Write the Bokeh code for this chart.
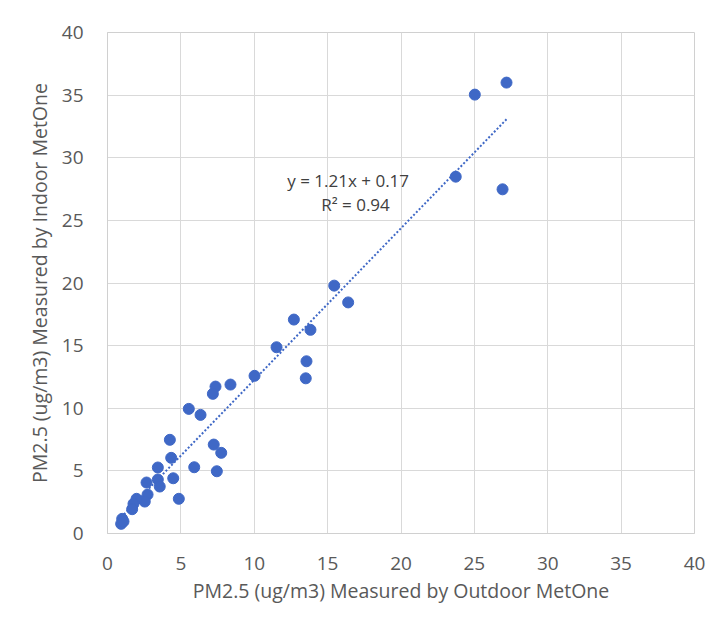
from bokeh.plotting import figure
from bokeh.models import Range1d, FixedTicker, Label
from bokeh.embed import file_html
from bokeh.resources import INLINE

outdoor = [27.19, 25.03, 23.73, 26.92, 15.45, 16.40, 12.70, 13.83, 11.52, 13.56,
           13.51, 10.02, 8.38, 7.36, 7.18, 5.54, 6.34, 4.25, 7.24, 7.75,
           4.34, 3.43, 5.91, 7.45, 4.48, 3.43, 3.56, 2.66, 2.73, 2.54,
           1.98, 1.77, 1.68, 4.86, 1.00, 0.93, 1.09]
indoor = [36.00, 35.04, 28.49, 27.48, 19.79, 18.45, 17.08, 16.26, 14.87, 13.75,
          12.39, 12.59, 11.89, 11.73, 11.15, 9.95, 9.47, 7.48, 7.10, 6.44,
          6.04, 5.27, 5.29, 4.97, 4.41, 4.31, 3.75, 4.07, 3.11, 2.55,
          2.77, 2.37, 1.94, 2.77, 1.17, 0.77, 0.96]
slope = 1.21
intercept = 0.17
r2 = 0.94
ticks = [0, 5, 10, 15, 20, 25, 30, 35, 40]

FONT = "Open Sans"
TXT = "#595959"
BLUE = "#3F68C6"

p = figure(width=718, height=626, output_backend="svg", toolbar_location=None,
           x_range=Range1d(0, 40), y_range=Range1d(0, 40),
           min_border_left=107, min_border_right=24, min_border_top=32, min_border_bottom=93)

p.xaxis.ticker = FixedTicker(ticks=ticks)
p.yaxis.ticker = FixedTicker(ticks=ticks)
for ax in (p.xaxis[0], p.yaxis[0]):
    ax.major_tick_line_color = None
    ax.minor_tick_line_color = None
    ax.axis_line_color = "#D0D0D0"
    ax.major_label_text_font = FONT
    ax.major_label_text_font_size = "19px"
    ax.major_label_text_color = TXT
    ax.axis_label_text_font = FONT
    ax.axis_label_text_font_size = "19.5px"
    ax.axis_label_text_font_style = "normal"
    ax.axis_label_text_color = TXT
p.xaxis.axis_label = "PM2.5 (ug/m3) Measured by Outdoor MetOne"
p.yaxis.axis_label = "PM2.5 (ug/m3) Measured by Indoor MetOne"
p.xaxis.major_label_standoff = 17
p.yaxis.major_label_standoff = 18
p.xaxis.axis_label_standoff = 4
p.yaxis.axis_label_standoff = 6

p.grid.grid_line_color = "#D9D9D9"
p.grid.grid_line_width = 1
p.outline_line_color = "#D0D0D0"
p.background_fill_color = "white"
p.border_fill_color = "white"

x0 = min(outdoor)
x1 = max(outdoor)
p.line([x0, x1], [slope * x0 + intercept, slope * x1 + intercept],
       line_color=BLUE, line_width=2, line_dash="2 2")

p.scatter(outdoor, indoor, size=11, fill_color=BLUE, line_color=BLUE, line_width=1)

p.add_layout(Label(x=16.4, y=28.2, text="y = %.2fx + %.2f" % (slope, intercept),
                   text_font=FONT, text_font_size="17px", text_color="#404040",
                   text_align="center", text_baseline="middle"))
p.add_layout(Label(x=16.9, y=26.3, text="R² = %.2f" % r2,
                   text_font=FONT, text_font_size="17px", text_color="#404040",
                   text_align="center", text_baseline="middle"))

open("out.html", "w").write(file_html(p, INLINE))
